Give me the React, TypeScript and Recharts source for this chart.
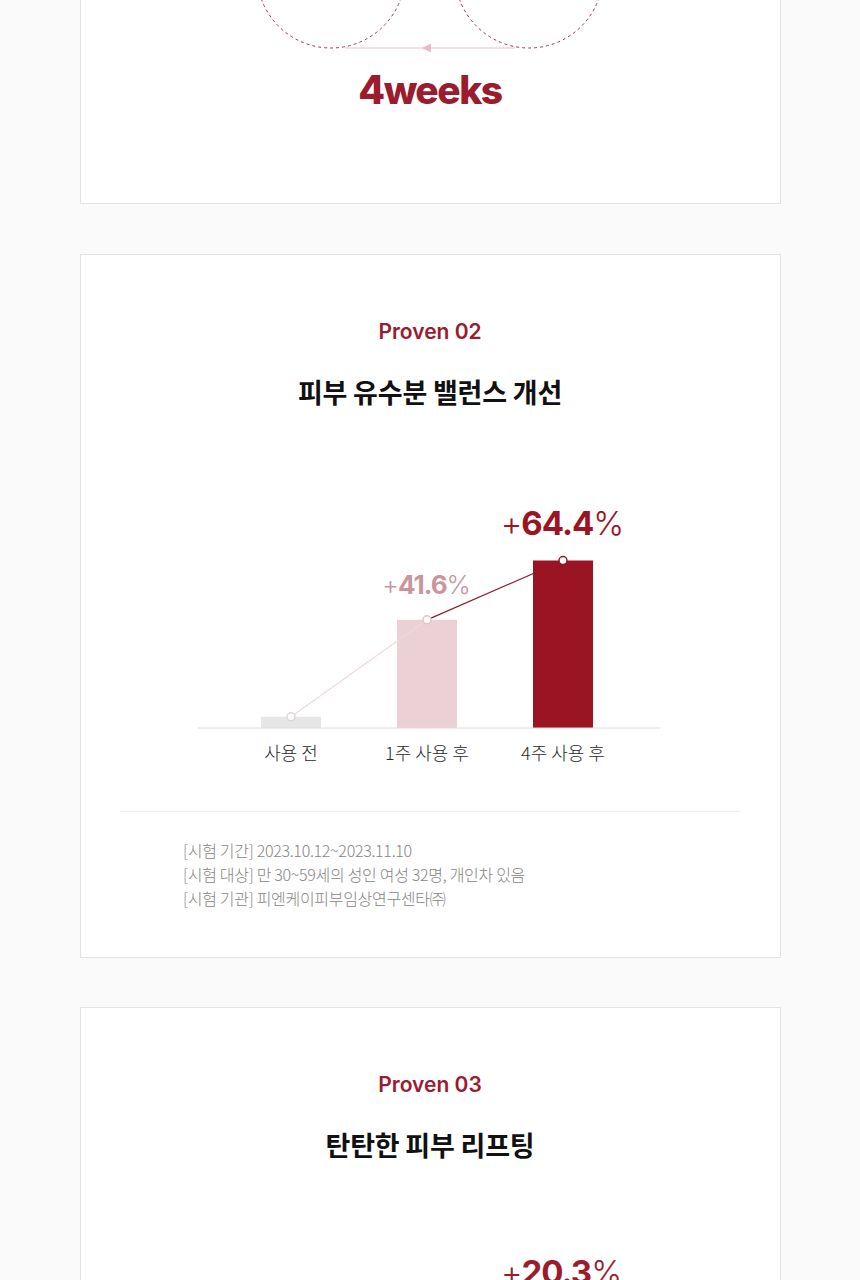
import React from 'react';
import { ComposedChart, Bar, Line, XAxis, YAxis, Cell, LabelList } from 'recharts';

const categories = ['사용 전', '1주 사용 후', '4주 사용 후'];
const barValues = [4.3, 41.6, 64.4];
const increaseValues = [null, 41.6, 64.4];
const footnotes = [
  '[시험 기간] 2023.10.12~2023.11.10',
  '[시험 대상] 만 30~59세의 성인 여성 32명, 개인차 있음',
  '[시험 기관] 피엔케이피부임상연구센타㈜',
];
const nextIncrease = 20.3;

const barColors = ['#e6e6e6', '#ebd1d6', '#9a1424'];
const dotColors = ['#d9d9d9', '#e6c3c9', '#8e1b2c'];
const labelColors = ['#c9959d', '#c9959d', '#9a1424'];
const labelSizes = [26, 26, 33];
const RED = '#9b1b2f';
const KR = '"Noto Sans CJK KR", "Noto Sans", sans-serif';
const LAT = 'Inter, "Noto Sans", sans-serif';

const tableData = categories.map((c, i) => ({
  name: c,
  value: barValues[i],
  early: i <= 1 ? barValues[i] : null,
  late: i >= 1 ? barValues[i] : null,
  inc: increaseValues[i],
}));

const Tick = (props: any) => {
  const { x, y, payload } = props;
  return (
    <text x={x} y={y + 24} textAnchor="middle" dominantBaseline="central" fill="#2a2a2a" fontFamily={KR} fontSize={18} fontWeight={300}>
      {payload.value}
    </text>
  );
};

const renderLabel = (props: any) => {
  const { x, y, width, value } = props;
  if (value === null || value === undefined) return null;
  const idx = increaseValues.indexOf(value);
  const size = labelSizes[idx] ?? 26;
  const color = labelColors[idx] ?? RED;
  return (
    <text x={x + width / 2 - 1} y={y - 26} textAnchor="middle" fill={color} fontFamily={LAT} fontSize={size} letterSpacing={-1}>
      <tspan fontWeight={300}>+</tspan>
      <tspan fontWeight={700}>{Number(value).toFixed(1)}</tspan>
      <tspan fontWeight={300}>%</tspan>
    </text>
  );
};

const renderDot = (props: any) => {
  const { cx, cy, index } = props;
  if (cx == null || cy == null) return <g key={`d${index}`} />;
  return <circle key={`d${index}`} cx={cx} cy={cy} r={4} fill="#fff" stroke={dotColors[index]} strokeWidth={1.5} />;
};

const cardStyle = (top: number, height: number): React.CSSProperties => ({
  position: 'absolute',
  left: 80,
  top,
  width: 701,
  height,
  boxSizing: 'border-box',
  background: '#fff',
  border: '1px solid #e3e3e3',
});

const centerText = (top: number, text: string, style: React.CSSProperties) => (
  <div style={{ position: 'absolute', left: 0, top, width: 860, textAlign: 'center', whiteSpace: 'nowrap', ...style }}>{text}</div>
);

export default function App() {
  return (
    <div style={{ position: 'absolute', left: 0, top: 0, width: 860, height: 1280, background: '#fafafa', overflow: 'hidden' }}>
      <div style={cardStyle(-100, 304)} />
      <div style={cardStyle(254, 704)} />
      <div style={cardStyle(1007, 400)} />

      <svg style={{ position: 'absolute', left: 0, top: 0 }} width={860} height={60}>
        <circle cx={331} cy={-26} r={74} fill="none" stroke="#9b3a48" strokeWidth={1} strokeDasharray="3 3" />
        <circle cx={529} cy={-26} r={74} fill="none" stroke="#9b3a48" strokeWidth={1} strokeDasharray="3 3" />
        <line x1={345} y1={48} x2={515} y2={48} stroke="#f0d6da" strokeWidth={1.5} />
        <polygon points="422,48 431,43.5 431,52.5" fill="#ebb9c1" />
      </svg>
      {centerText(65, '4weeks', { fontFamily: LAT, fontWeight: 800, fontSize: 39, letterSpacing: -1.5, color: RED, lineHeight: '50px' })}

      {centerText(318, 'Proven 02', { fontFamily: LAT, fontWeight: 600, fontSize: 21, color: RED, lineHeight: '28px' })}
      {centerText(373, '피부 유수분 밸런스 개선', { fontFamily: KR, fontWeight: 700, fontSize: 27, color: '#111', lineHeight: '38px', letterSpacing: -0.2 })}

      <div style={{ position: 'absolute', left: 198, top: 479 }}>
        <ComposedChart width={462} height={300} data={tableData} margin={{ top: 41, right: 0, bottom: 0, left: 0 }}>
          <XAxis
            dataKey="name"
            axisLine={{ stroke: '#dcdcdc', strokeWidth: 1 }}
            tickLine={false}
            tickSize={0}
            tickMargin={0}
            height={51}
            padding={{ left: 25, right: 29 }}
            tick={<Tick />}
            interval={0}
          />
          <YAxis hide domain={[0, 80]} />
          <Bar dataKey="value" barSize={60} isAnimationActive={false}>
            {tableData.map((d, i) => (
              <Cell key={d.name} fill={barColors[i]} />
            ))}
            <LabelList dataKey="inc" content={renderLabel} />
          </Bar>
          <Line type="linear" dataKey="early" stroke="#edd9dd" strokeWidth={1.2} dot={false} activeDot={false} isAnimationActive={false} connectNulls={false} />
          <Line type="linear" dataKey="late" stroke="#8e1b2c" strokeWidth={1.2} dot={false} activeDot={false} isAnimationActive={false} connectNulls={false} />
          <Line type="linear" dataKey="value" stroke="none" strokeWidth={0} dot={renderDot} activeDot={false} isAnimationActive={false} />
        </ComposedChart>
      </div>

      <div style={{ position: 'absolute', left: 120, top: 811, width: 620, height: 1, background: '#eeeeee' }} />
      <div style={{ position: 'absolute', left: 183, top: 838, fontFamily: KR, fontWeight: 300, fontSize: 16, lineHeight: '24px', color: '#858585', letterSpacing: -0.3 }}>
        {footnotes.map((f) => (
          <div key={f}>{f}</div>
        ))}
      </div>

      {centerText(1071, 'Proven 03', { fontFamily: LAT, fontWeight: 600, fontSize: 21, color: RED, lineHeight: '28px' })}
      {centerText(1126, '탄탄한 피부 리프팅', { fontFamily: KR, fontWeight: 700, fontSize: 27, color: '#111', lineHeight: '38px', letterSpacing: -0.2 })}
      <div style={{ position: 'absolute', left: 461, top: 1251, width: 200, textAlign: 'center', fontFamily: LAT, fontSize: 33, color: RED, letterSpacing: -1, lineHeight: '42px' }}>
        <span style={{ fontWeight: 300 }}>+</span>
        <span style={{ fontWeight: 700 }}>{nextIncrease.toFixed(1)}</span>
        <span style={{ fontWeight: 300 }}>%</span>
      </div>
    </div>
  );
}
